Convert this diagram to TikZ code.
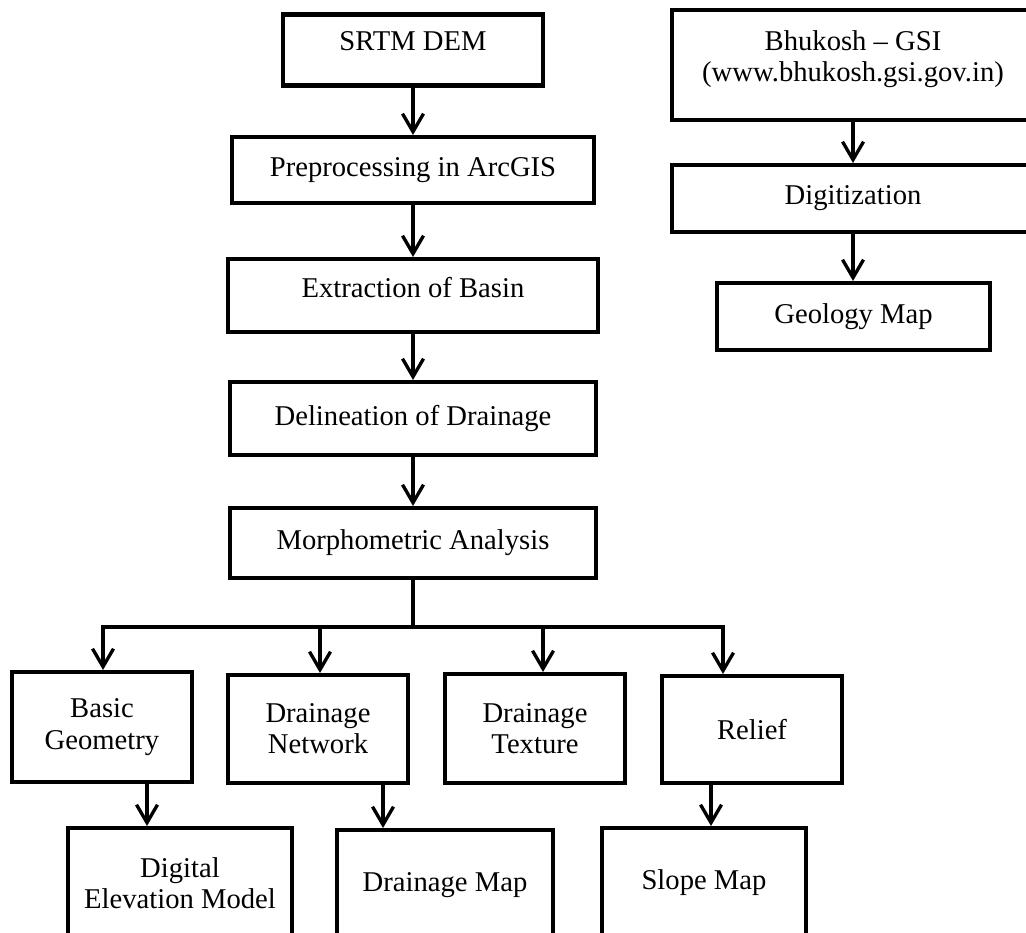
\documentclass[tikz,border=0pt]{standalone}
\usepackage{fontspec}
\setmainfont{Liberation Serif}
\usepackage{tikz}
\usetikzlibrary{arrows.meta}

\begin{document}
\begin{tikzpicture}[
    x=0.02cm, y=-0.02cm,
    box/.style={draw=black, rectangle, line width=2.3pt, align=center, inner sep=0pt,
                font=\fontsize{16.3}{17.8}\selectfont},
    lift/.style={text depth=#1},
    line/.style={line width=1.9pt, black},
    arr/.style={line, -{Straight Barb[length=0.36cm, width=0.42cm]}},
]
\useasboundingbox (0,0) rectangle (1026,932);
\clip (0,0) rectangle (1026,932);

% main chain
\node[box, minimum width=5.2cm, minimum height=1.42cm, lift=0.36cm]
      (srtm) at (413,50) {SRTM DEM};
\node[box, minimum width=7.24cm, minimum height=1.32cm]
      (prep) at (413,170) {Preprocessing in ArcGIS};
\node[box, minimum width=7.4cm, minimum height=1.46cm, lift=0.34cm]
      (extract) at (413,295.5) {Extraction of Basin};
\node[box, minimum width=7.32cm, minimum height=1.46cm]
      (delin) at (413,418.5) {Delineation of Drainage};
\node[box, minimum width=7.32cm, minimum height=1.4cm]
      (morph) at (413,543) {Morphometric Analysis};

% geology chain
\node[box, minimum width=7.24cm, minimum height=2.2cm, lift=0.36cm]
      (bhukosh) at (853,65) {Bhukosh -- GSI\\(www.bhukosh.gsi.gov.in)};
\node[box, minimum width=7.24cm, minimum height=1.34cm]
      (digit) at (853,198.5) {Digitization};
\node[box, minimum width=5.46cm, minimum height=1.34cm]
      (geology) at (853.5,316.5) {Geology Map};

% parameters
\node[box, minimum width=3.6cm, minimum height=2.2cm]
      (basic) at (102,727) {Basic\\Geometry};
\node[box, minimum width=3.6cm, minimum height=2.16cm]
      (dnet) at (318,729) {Drainage\\Network};
\node[box, minimum width=3.6cm, minimum height=2.18cm]
      (dtex) at (535,728.5) {Drainage\\Texture};
\node[box, minimum width=3.6cm, minimum height=2.14cm]
      (relief) at (752,729.5) {Relief};

% output maps
\node[box, minimum width=4.48cm, minimum height=2.2cm]
      (dem) at (180,883) {Digital\\Elevation Model};
\node[box, minimum width=4.32cm, minimum height=2.2cm]
      (dmap) at (445,885) {Drainage Map};
\node[box, minimum width=4.08cm, minimum height=2.2cm]
      (slope) at (704,883) {Slope Map};

\draw[arr] (srtm) -- (prep);
\draw[arr] (prep) -- (extract);
\draw[arr] (extract) -- (delin);
\draw[arr] (delin) -- (morph);

\draw[arr] (bhukosh) -- (digit);
\draw[arr] (digit.south) -- (digit.south |- geology.north);

\coordinate (split) at (413,627);
\draw[line] (morph.south) -- (split);
\foreach \n/\x in {basic/103, dnet/320, dtex/543, relief/723}
    \draw[arr] (split) -| (\x,0 |- \n.north);

\foreach \a/\b/\x in {basic/dem/147, dnet/dmap/383, relief/slope/711}
    \draw[arr] (\x,0 |- \a.south) -- (\x,0 |- \b.north);
\end{tikzpicture}
\end{document}
